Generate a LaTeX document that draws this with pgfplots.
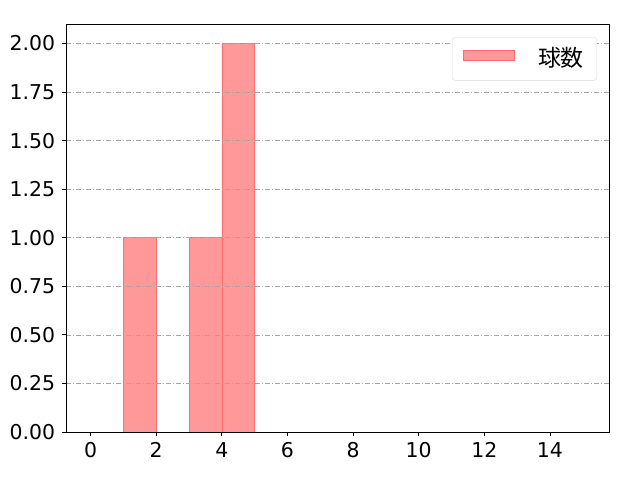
\documentclass[border=0pt]{standalone}
\usepackage{pgfplots}
\pgfplotsset{compat=1.18}
\usepackage{fontspec}
\setmainfont{Noto Sans CJK JP}
\newfontfamily\tickfont{DejaVu Sans}
\definecolor{barfill}{RGB}{255,153,153}
\definecolor{baredge}{RGB}{255,110,110}
\begin{document}
\fontsize{20}{24}\selectfont
\begin{tikzpicture}
\begin{axis}[
  scale only axis,
  width=543bp, height=408bp,
  at={(0,0)}, anchor=south west,
  xmin=-0.75, xmax=15.8,
  ymin=0, ymax=2.1,
  xtick={0,2,...,14},
  ytick={0,0.25,...,2.0},
  xtick pos=left, ytick pos=left,
  yticklabel style={/pgf/number format/.cd,fixed,fixed zerofill,precision=2},
  /pgf/number format/assume math mode=true,
  ymajorgrids,
  grid style={gray!70, dash pattern=on 5pt off 2pt on 1pt off 2pt, line width=0.6pt},
  axis on top,
  tick align=outside,
  major tick length=4bp,
  tick style={black, line width=0.8pt},
  axis line style={line width=0.8pt},
  ticklabel style={font=\tickfont\fontsize{20.5}{24}\selectfont},
  legend style={at={(0.978,0.968)}, anchor=north east, draw=black!15, rounded corners=3pt,
    font=\fontsize{23}{27}\selectfont, inner xsep=11pt, inner ysep=8.5pt},
  legend cell align=left,
  legend image code/.code={\draw[sharp corners, fill=barfill, draw=baredge] (0cm,-0.05cm) rectangle (1.8cm,0.3cm);},
]
\addplot[ybar interval, fill=barfill, draw=baredge, line width=0.6pt] coordinates {
  (1,1) (2,0) (3,1) (4,2) (5,2)
};
\addlegendentry{\hspace{0.75cm}球数}
\end{axis}
\path[use as bounding box] (-66bp,-48bp) rectangle (574bp,432bp);
\end{tikzpicture}
\end{document}
